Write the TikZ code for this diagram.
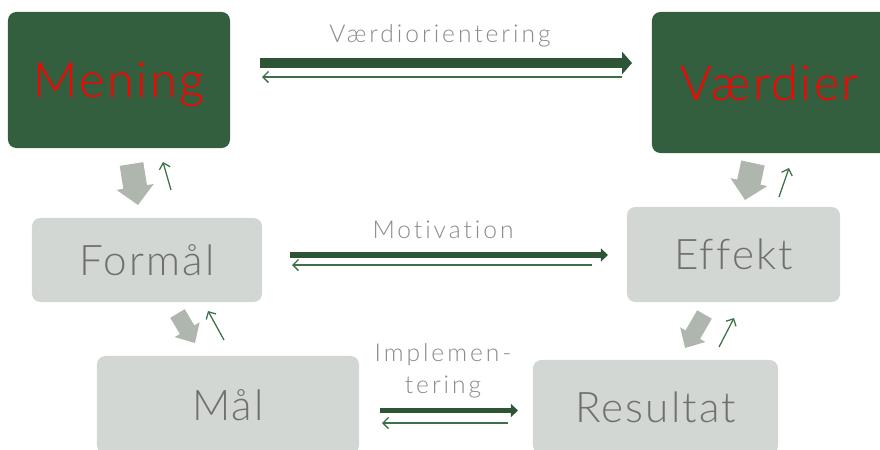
\documentclass[tikz,border=0pt]{standalone}
\usepackage{fontspec}
\usepackage{xcolor}
\usepackage{tikz}
\usetikzlibrary{arrows.meta}
\newfontfamily\boxfont{Lato Light}[LetterSpace=5, Ligatures=NoCommon]
\newfontfamily\labfont{Lato Light}[LetterSpace=12, Ligatures=NoCommon]
\definecolor{dgreen}{HTML}{335F3E}
\definecolor{vred}{HTML}{FF0000}
\definecolor{lgray}{HTML}{D3D7D4}
\definecolor{btext}{HTML}{707070}
\definecolor{ltext}{HTML}{8A8A8A}
\definecolor{bgray}{HTML}{AEB6AE}
\definecolor{tgreen}{HTML}{2D5535}
\definecolor{bgreen}{HTML}{3E7048}
\tikzset{
  darkbox/.style={fill=dgreen, rounded corners=6pt, text=vred, inner sep=0pt,
    font=\boxfont\fontsize{34.6}{40}\selectfont, text height=24.9pt, text depth=0pt},
  lightbox/.style={fill=lgray, rounded corners=6pt, text=btext, inner sep=0pt,
    font=\boxfont\fontsize{30}{36}\selectfont, text height=21.5pt, text depth=0pt},
  lab/.style={text=ltext, font=\labfont\fontsize{17.5}{22.5}\selectfont, align=center},
  fwd/.style={draw=tgreen, line width=7.1pt, -{Triangle[length=7pt,width=15.6pt]}},
  fwdsm/.style={draw=tgreen, line width=3.6pt, -{Triangle[length=5pt,width=9pt]}},
  back/.style={draw=bgreen, line width=0.9pt, -{Straight Barb[length=4pt,width=8pt]}},
  blk/.style={draw=bgray, line width=17pt, -{Triangle[length=13pt,width=26pt]}},
  blksm/.style={draw=bgray, line width=12pt, -{Triangle[length=11pt,width=20pt]}},
}
\begin{document}
\begin{tikzpicture}[x=0.025cm,y=-0.025cm]
  \clip (0,0) rectangle (880,449);

  % boxes
  \node[darkbox, minimum width=5.55cm, minimum height=3.4cm] (mening) at (119,80) {Mening};
  \node[darkbox, minimum width=5.9cm, minimum height=3.525cm] (vaerdier) at (770,82.5) {Værdier};
  \node[lightbox, minimum width=5.75cm, minimum height=2.1cm] (formaal) at (147,260) {Formål};
  \node[lightbox, minimum width=5.325cm, minimum height=2.375cm] (effekt) at (733.5,254.5) {Effekt};
  \node[lightbox, minimum width=6.55cm, minimum height=2.45cm] (maal) at (228,405) {Mål};
  \node[lightbox, minimum width=6.125cm, minimum height=2.35cm] (resultat) at (655.5,407) {Resultat};

  % horizontal arrows
  \coordinate (v1) at (260,63);  \coordinate (v2) at (632,63);
  \coordinate (v3) at (622,77);  \coordinate (v4) at (262,77);
  \coordinate (m1) at (290,255); \coordinate (m2) at (608,255);
  \coordinate (m3) at (592,265); \coordinate (m4) at (292,265);
  \coordinate (i1) at (380,410.5); \coordinate (i2) at (518,410.5);
  \coordinate (i3) at (508,423); \coordinate (i4) at (382,423);

  \draw[fwd] (v1) -- (v2);
  \draw[back] (v3) -- (v4);
  \draw[fwdsm] (m1) -- (m2);
  \draw[back] (m3) -- (m4);
  \draw[fwdsm] (i1) -- (i2);
  \draw[back] (i3) -- (i4);

  \node[lab, anchor=base] (lvaerdi) at (440,42) {Værdiorientering};
  \node[lab, anchor=base] (lmotiv) at (443,238) {Motivation};
  \node[lab] (limpl) at (443,371) {Implemen-\\tering};

  % down / up arrows between levels
  \coordinate (a1) at (131.5,164); \coordinate (a2) at (138,205);
  \coordinate (b1) at (177.5,313.5); \coordinate (b2) at (195,343);
  \coordinate (c1) at (753,163); \coordinate (c2) at (745,200);
  \coordinate (d1) at (704.5,314.5); \coordinate (d2) at (685,348);

  \draw[blk] (a1) -- (a2);
  \draw[blksm] (b1) -- (b2);
  \draw[blk] (c1) -- (c2);
  \draw[blksm] (d1) -- (d2);

  \coordinate (e1) at (171,190); \coordinate (e2) at (163,162);
  \coordinate (f1) at (224,340); \coordinate (f2) at (208,311);
  \coordinate (g1) at (779,197); \coordinate (g2) at (789,168);
  \coordinate (h1) at (719,347); \coordinate (h2) at (734,318);

  \draw[back] (e1) -- (e2);
  \draw[back] (f1) -- (f2);
  \draw[back] (g1) -- (g2);
  \draw[back] (h1) -- (h2);
\end{tikzpicture}
\end{document}
